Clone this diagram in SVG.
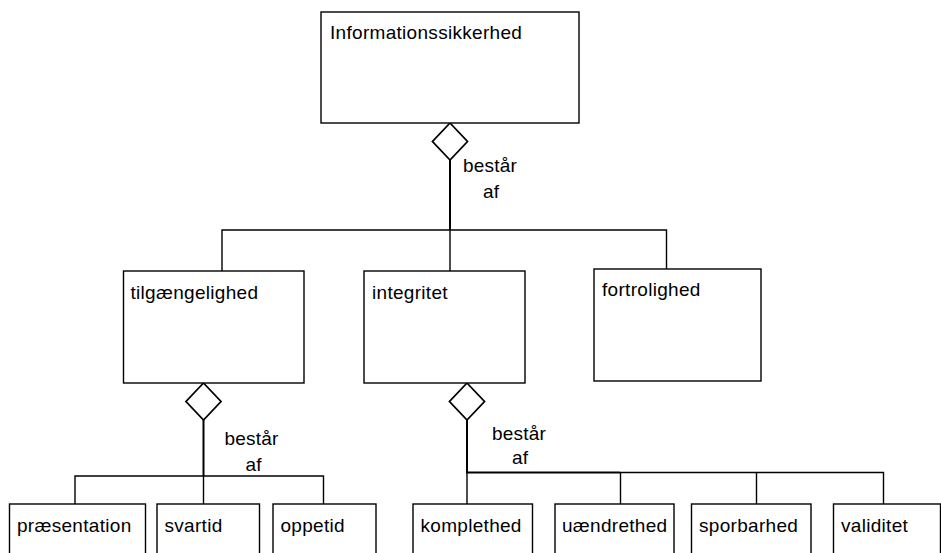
<svg xmlns="http://www.w3.org/2000/svg" width="941" height="553" viewBox="0 0 941 553">
  <defs>
    <style>
      .box { fill: #ffffff; stroke: #000000; stroke-width: 1.4; }
      .lbl { font-family: "Liberation Sans", Arial, sans-serif; font-size: 19px; letter-spacing: 0.3px; fill: #000000; }
      .rel { font-family: "Liberation Sans", Arial, sans-serif; font-size: 19px; letter-spacing: 0.2px; fill: #000000; text-anchor: middle; }
      .wire { fill: none; stroke: #000000; stroke-width: 1.4; }
      .trunk { fill: none; stroke: #000000; stroke-width: 2; }
      .agg { fill: #ffffff; stroke: #000000; stroke-width: 1.8; }
    </style>
  </defs>
  <rect width="941" height="553" fill="#ffffff"/>

  <!-- connectors -->
  <g id="connectors">
    <!-- Informationssikkerhed composition -->
    <line class="trunk" x1="450" y1="160" x2="450" y2="230"/>
    <polyline class="wire" points="222,271 222,230 666.5,230 666.5,269"/>
    <line class="wire" x1="450" y1="230" x2="450" y2="271"/>
    <polygon class="agg" points="450,123 467.5,141.5 450,160 432.5,141.5"/>
    <text class="rel" x="490" y="172">består</text>
    <text class="rel" x="491" y="198">af</text>

    <!-- tilgængelighed composition -->
    <line class="trunk" x1="203.5" y1="420" x2="203.5" y2="476"/>
    <polyline class="wire" points="75,504 75,476 323.5,476 323.5,504"/>
    <line class="wire" x1="203.5" y1="476" x2="203.5" y2="504"/>
    <polygon class="agg" points="203.5,383 221,401.5 203.5,420 186,401.5"/>
    <text class="rel" x="251.5" y="445">består</text>
    <text class="rel" x="253.5" y="471">af</text>

    <!-- integritet composition -->
    <line class="trunk" x1="467" y1="420" x2="467" y2="472.5"/>
    <line class="trunk" x1="466" y1="472.5" x2="620" y2="472.5"/>
    <polyline class="wire" points="620,472.5 883.5,472.5 883.5,504"/>
    <line class="wire" x1="467" y1="472.5" x2="467" y2="504"/>
    <line class="wire" x1="620.5" y1="472.5" x2="620.5" y2="504"/>
    <line class="wire" x1="756.5" y1="472.5" x2="756.5" y2="504"/>
    <polygon class="agg" points="467,383 484.5,401.5 467,420 449.5,401.5"/>
    <text class="rel" x="519" y="440">består</text>
    <text class="rel" x="520" y="464">af</text>
  </g>

  <!-- nodes -->
  <g id="informationssikkerhed">
    <rect class="box" x="321" y="12" width="258" height="111"/>
    <text class="lbl" x="330" y="39">Informationssikkerhed</text>
  </g>
  <g id="tilgaengelighed">
    <rect class="box" x="123.5" y="271" width="180.5" height="112"/>
    <text class="lbl" x="130.5" y="299">tilgængelighed</text>
  </g>
  <g id="integritet">
    <rect class="box" x="364" y="271" width="161" height="112"/>
    <text class="lbl" x="372" y="299">integritet</text>
  </g>
  <g id="fortrolighed">
    <rect class="box" x="594" y="269" width="167" height="112"/>
    <text class="lbl" x="602" y="296">fortrolighed</text>
  </g>
  <g id="praesentation">
    <rect class="box" x="9.5" y="504" width="136" height="60"/>
    <text class="lbl" x="17" y="532">præsentation</text>
  </g>
  <g id="svartid">
    <rect class="box" x="157" y="504" width="102.5" height="60"/>
    <text class="lbl" x="164.5" y="532">svartid</text>
  </g>
  <g id="oppetid">
    <rect class="box" x="273" y="504" width="103" height="60"/>
    <text class="lbl" x="280.5" y="532">oppetid</text>
  </g>
  <g id="komplethed">
    <rect class="box" x="413" y="504" width="119.5" height="60"/>
    <text class="lbl" x="420.5" y="532">komplethed</text>
  </g>
  <g id="uaendrethed">
    <rect class="box" x="555" y="504" width="119" height="60"/>
    <text class="lbl" x="562" y="532">uændrethed</text>
  </g>
  <g id="sporbarhed">
    <rect class="box" x="691.5" y="504" width="119.5" height="60"/>
    <text class="lbl" x="699" y="532">sporbarhed</text>
  </g>
  <g id="validitet">
    <rect class="box" x="833.5" y="504" width="107" height="60"/>
    <text class="lbl" x="841" y="532">validitet</text>
  </g>
</svg>
